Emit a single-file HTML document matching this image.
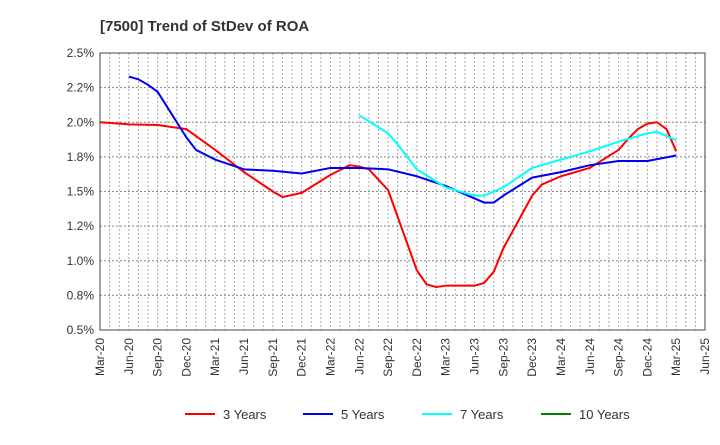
<!DOCTYPE html>
<html><head><meta charset="utf-8"><style>
body{margin:0;background:#fff;font-family:"Liberation Sans",sans-serif}
svg text{font-family:"Liberation Sans",sans-serif}
</style></head><body>
<svg id="c" width="720" height="440" viewBox="0 0 720 440">
<text x="100" y="31" font-size="15" font-weight="bold" fill="#333">[7500]  Trend of StDev of ROA</text>
<g id="grid"></g><g id="axes"></g><g id="series"></g><g id="legend"></g>
</svg>
<script>
const xTickLabels=["Mar-20","Jun-20","Sep-20","Dec-20","Mar-21","Jun-21","Sep-21","Dec-21","Mar-22","Jun-22","Sep-22","Dec-22","Mar-23","Jun-23","Sep-23","Dec-23","Mar-24","Jun-24","Sep-24","Dec-24","Mar-25","Jun-25"];
const yTicks=[0.5,0.75,1.0,1.25,1.5,1.75,2.0,2.25,2.5];
const yTickLabels=["0.5%","0.8%","1.0%","1.2%","1.5%","1.8%","2.0%","2.2%","2.5%"];
const m3=[0,3,6,9,12,15,18,19,21,24,26,27,28,30,33,34,35,36,39,40,41,42,45,46,48,51,54,55,56,57,58,59,60];
const v3=[2.0,1.985,1.98,1.95,1.80,1.64,1.50,1.46,1.49,1.62,1.69,1.68,1.66,1.51,0.93,0.83,0.81,0.82,0.82,0.84,0.92,1.09,1.47,1.55,1.61,1.67,1.80,1.88,1.95,1.99,2.0,1.95,1.79];
const m5=[3,4,5,6,9,10,12,15,18,21,24,27,30,33,36,39,40,41,42,45,48,51,54,57,60];
const v5=[2.33,2.31,2.27,2.22,1.89,1.80,1.73,1.66,1.65,1.63,1.67,1.67,1.66,1.61,1.54,1.45,1.42,1.42,1.47,1.60,1.64,1.69,1.72,1.72,1.76];
const m7=[27,30,31,33,36,39,40,42,45,48,51,54,57,58,60];
const v7=[2.05,1.92,1.84,1.66,1.53,1.47,1.47,1.53,1.67,1.73,1.79,1.86,1.92,1.93,1.87];
const NS="http://www.w3.org/2000/svg";
const L=100,R=705,T=53,B=330;
const xs=m=>L+(R-L)*m/63;
const ys=v=>B-(v-0.5)/2*(B-T);
function el(t,a,p){const e=document.createElementNS(NS,t);for(const k in a)e.setAttribute(k,a[k]);p.appendChild(e);return e;}
const grid=document.getElementById('grid'),axes=document.getElementById('axes'),ser=document.getElementById('series'),leg=document.getElementById('legend');
for(let m=1;m<63;m++){const g=el('line',{x1:xs(m),x2:xs(m),y1:T,y2:B,stroke:'#aaa','stroke-dasharray':'2,2','stroke-width':1},grid);

}
yTicks.forEach((v,i)=>{const g=el('line',{x1:L,x2:R,y1:ys(v),y2:ys(v),stroke:'#888','stroke-dasharray':'2,2','stroke-width':1},grid);


const t=el('text',{x:L-6,y:ys(v)+4,'text-anchor':'end','font-size':12,fill:'#333'},axes);t.textContent=yTickLabels[i];

});
xTickLabels.forEach((s,i)=>{const x=xs(i*3),y=B+8;const t=el('text',{x:x,y:y,'text-anchor':'end','font-size':12,fill:'#333',transform:`rotate(-90 ${x} ${y})`,dy:'4'},axes);t.textContent=s;

});
const box=el('rect',{x:L,y:T,width:R-L,height:B-T,fill:'none',stroke:'#444','stroke-width':1},axes);


function line(ms,vs,c,n){const p=el('polyline',{points:ms.map((m,i)=>xs(m)+','+ys(vs[i])).join(' '),fill:'none',stroke:c,'stroke-width':2,'stroke-linejoin':'round'},ser);

}
line(m3,v3,'#ff0000','line-3-years');line(m5,v5,'#0000ee','line-5-years');line(m7,v7,'#00ffff','line-7-years');
[["3 Years","#ff0000",185],["5 Years","#0000ee",303],["7 Years","#00ffff",422],["10 Years","#008000",541]].forEach(d=>{
const g=el('g',{},leg);


el('line',{x1:d[2],x2:d[2]+30,y1:414,y2:414,stroke:d[1],'stroke-width':2},g);
const t=el('text',{x:d[2]+38,y:419,'font-size':13,fill:'#333'},g);t.textContent=d[0];});
</script>
</body></html>
